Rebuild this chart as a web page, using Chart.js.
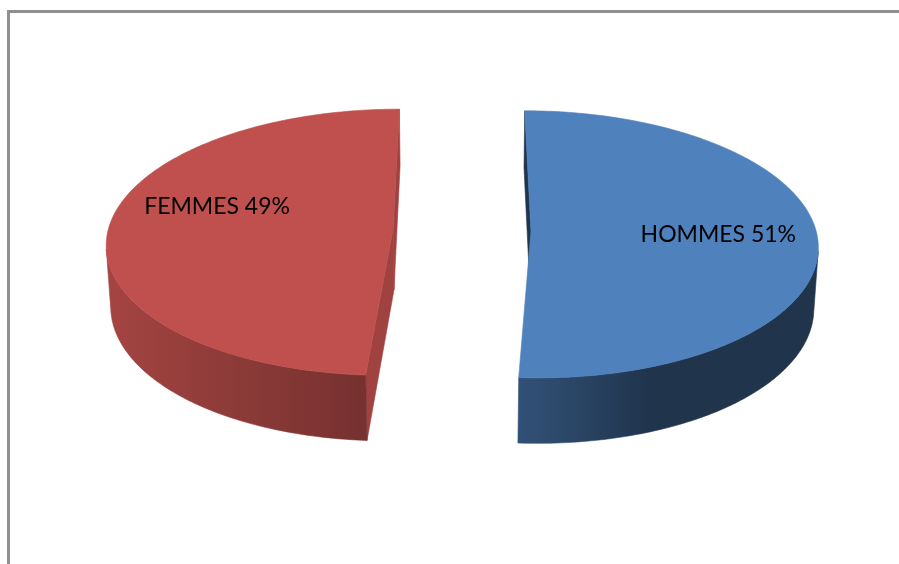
<!DOCTYPE html>
<html>
<head>
<meta charset="utf-8">
<script src="https://cdn.jsdelivr.net/npm/chart.js@4.4.0/dist/chart.umd.min.js"></script>
<style>
    html, body { margin: 0; padding: 0; background: #fff; overflow: hidden; }
    #wrap { position: relative; width: 899px; height: 564px; overflow: hidden; }
    #frame {
        position: absolute; left: 7px; top: 10px; width: 960px; height: 640px;
        border-top: 3px solid #8f8f8f; border-left: 3px solid #8f8f8f;
    }
    #genderPie { position: absolute; left: 0; top: 0; }
</style>
</head>
<body>
<div id="wrap">
    <div id="frame"></div>
    <canvas id="genderPie" width="899" height="564"></canvas>
</div>
<script>
const sexLabels = ['HOMMES', 'FEMMES'];
const sexPercents = [51, 49];
const sliceColors = ['#4F81BD', '#C0504D'];

// 3D view settings (pie radius = 1 world unit)
const TILT = 27.6 * Math.PI / 180;
const VIEW_X = 462, VIEW_Y = 230;
const FOCAL = 2536, DIST = 8.9;
const THICK = 0.244;
const EXPLODE = 0.242;

// label spot per slice: distance from slice centre and extra turn from its mid angle
const LABEL_R = 0.655;
const labelTurn = [0.015, 0.23];

const sinT = Math.sin(TILT), cosT = Math.cos(TILT);
const camera = [0, DIST * sinT, DIST * cosT];

function project(x, y, z) {
    const yc = y * cosT - z * sinT;
    const zc = y * sinT + z * cosT;
    const k = FOCAL / (DIST - zc);
    return [VIEW_X + x * k, VIEW_Y - yc * k];
}

function facing(p, n) {
    return (camera[0] - p[0]) * n[0] + (camera[1] - p[1]) * n[1] + (camera[2] - p[2]) * n[2] > 0;
}

function shade(hex, f) {
    const v = parseInt(hex.slice(1), 16);
    const r = Math.min(255, Math.round(((v >> 16) & 255) * f));
    const g = Math.min(255, Math.round(((v >> 8) & 255) * f));
    const b = Math.min(255, Math.round((v & 255) * f));
    return 'rgb(' + r + ',' + g + ',' + b + ')';
}

// side gets darker as it turns right
function wallShade(nx) {
    return nx < 0 ? 0.6 - 0.27 * nx : Math.max(0.4, 0.6 - 0.55 * nx);
}
function cutShade(nx) {
    return 0.615 + 0.215 * nx;
}

function poly(ctx, pts, fill) {
    ctx.beginPath();
    pts.forEach((p, i) => i ? ctx.lineTo(p[0], p[1]) : ctx.moveTo(p[0], p[1]));
    ctx.closePath();
    ctx.fillStyle = fill;
    ctx.fill();
    ctx.strokeStyle = fill;
    ctx.lineWidth = 0.6;
    ctx.stroke();
}

function drawWall(ctx, rim, angles, color, from, to) {
    const top = [], bottom = [];
    for (let i = from; i <= to; i++) {
        top.push(project(rim[i][0], 0, rim[i][1]));
        bottom.push(project(rim[i][0], -THICK, rim[i][1]));
    }
    const xa = top[0][0], xb = top[top.length - 1][0];
    const grad = ctx.createLinearGradient(Math.min(xa, xb), 0, Math.max(xa, xb), 0);
    const stops = [];
    for (let i = from; i <= to; i++) {
        const x = top[i - from][0];
        const t = Math.abs(xb - xa) < 1e-6 ? 0 : (x - Math.min(xa, xb)) / Math.abs(xb - xa);
        stops.push([Math.min(1, Math.max(0, t)), shade(color, wallShade(Math.cos(angles[i])))]);
    }
    stops.sort((a, b) => a[0] - b[0]);
    stops.forEach(s => grad.addColorStop(s[0], s[1]));
    poly(ctx, top.concat(bottom.reverse()), grad);
}

function drawSlice(ctx, arc) {
    const start = arc.startAngle, end = arc.endAngle;
    const mid = (start + end) / 2;
    const ox = EXPLODE * Math.cos(mid), oz = EXPLODE * Math.sin(mid);
    const color = arc.options.backgroundColor;
    const steps = Math.max(8, Math.ceil((end - start) / (Math.PI / 180)));

    const rim = [], angles = [];
    for (let i = 0; i <= steps; i++) {
        const a = start + (end - start) * i / steps;
        angles.push(a);
        rim.push([ox + Math.cos(a), oz + Math.sin(a)]);
    }

    // flat cut faces along the two radii
    const cuts = [
        [start, [Math.sin(start), 0, -Math.cos(start)]],
        [end, [-Math.sin(end), 0, Math.cos(end)]]
    ];
    cuts.forEach(([a, n]) => {
        const ex = ox + Math.cos(a), ez = oz + Math.sin(a);
        const m = [(ox + ex) / 2, -THICK / 2, (oz + ez) / 2];
        if (!facing(m, n)) return;
        poly(ctx, [project(ox, 0, oz), project(ex, 0, ez), project(ex, -THICK, ez), project(ox, -THICK, oz)],
            shade(color, cutShade(n[0])));
    });

    // curved outer side, one gradient-filled band per visible run
    let runStart = -1;
    for (let i = 0; i <= steps; i++) {
        let vis = false;
        if (i < steps) {
            const am = (angles[i] + angles[i + 1]) / 2;
            const n = [Math.cos(am), 0, Math.sin(am)];
            vis = facing([ox + n[0], -THICK / 2, oz + n[2]], n);
        }
        if (vis && runStart < 0) runStart = i;
        if (!vis && runStart >= 0) {
            drawWall(ctx, rim, angles, color, runStart, i);
            runStart = -1;
        }
    }

    // top face
    poly(ctx, [project(ox, 0, oz)].concat(rim.map(p => project(p[0], 0, p[1]))), color);
}

function drawLabel(ctx, arc, text, turn) {
    const mid = (arc.startAngle + arc.endAngle) / 2;
    const a = mid + turn;
    const x = EXPLODE * Math.cos(mid) + LABEL_R * Math.cos(a);
    const z = EXPLODE * Math.sin(mid) + LABEL_R * Math.sin(a);
    const p = project(x, 0, z);
    ctx.fillStyle = '#000';
    ctx.font = '23px Lato, "Open Sans", sans-serif';
    ctx.textAlign = 'center';
    ctx.textBaseline = 'middle';
    ctx.fillText(text, p[0], p[1]);
}

const pie3d = {
    id: 'pie3d',
    beforeDatasetsDraw(chart) {
        const ctx = chart.ctx;
        const meta = chart.getDatasetMeta(0);
        const values = chart.data.datasets[0].data;
        const total = values.reduce((s, v) => s + v, 0);
        ctx.save();
        meta.data.forEach(arc => drawSlice(ctx, arc));
        meta.data.forEach((arc, i) => {
            const pct = Math.round(values[i] / total * 100);
            drawLabel(ctx, arc, chart.data.labels[i] + ' ' + pct + '%', labelTurn[i]);
        });
        ctx.restore();
        return false;
    }
};

new Chart(document.getElementById('genderPie'), {
    type: 'pie',
    data: {
        labels: sexLabels,
        datasets: [{
            data: sexPercents,
            backgroundColor: sliceColors,
            borderWidth: 0
        }]
    },
    options: {
        responsive: false,
        animation: false,
        events: [],
        plugins: {
            legend: { display: false },
            tooltip: { enabled: false }
        }
    },
    plugins: [pie3d]
});
</script>
</body>
</html>
